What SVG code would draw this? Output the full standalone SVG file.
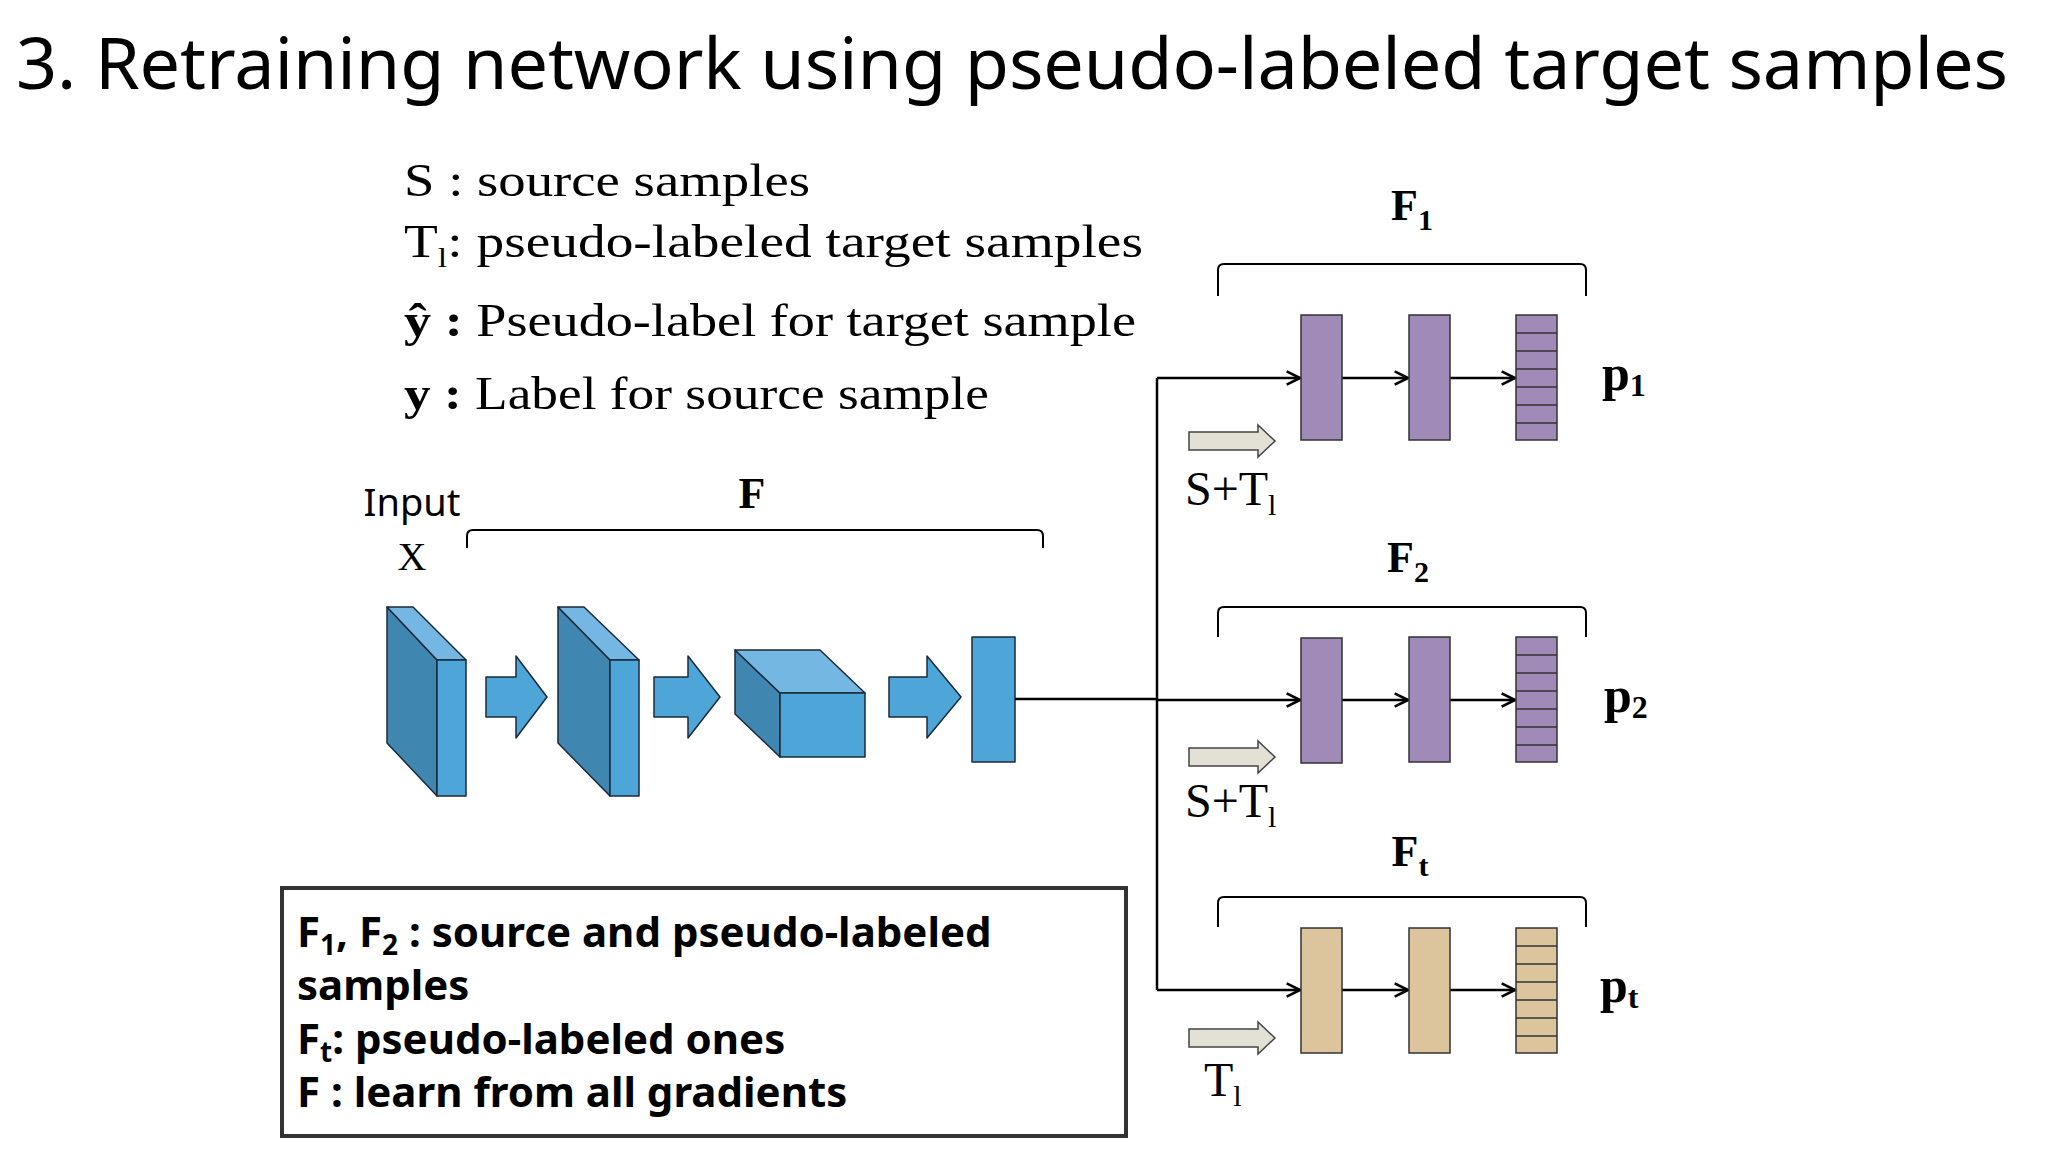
<svg xmlns="http://www.w3.org/2000/svg" width="2048" height="1152" viewBox="0 0 2048 1152">
<defs>
<style>
.sans{font-family:"Noto Sans","Open Sans",sans-serif}
.serif{font-family:"Liberation Serif","DejaVu Serif",serif}
.bl{stroke:#1a2a3a;stroke-width:1.5;stroke-linejoin:round}
.mid{fill:#4ea6d8}.dark{fill:#3f86b0}.lt{fill:#74b7e3}
.pu{fill:#a08ab8;stroke:#333;stroke-width:1.5}
.tan{fill:#dcc49c;stroke:#333;stroke-width:1.5}
.ln{stroke:#000;stroke-width:2.5;fill:none}
.br{stroke:#000;stroke-width:2;fill:none}
.ga{fill:#e3e1d6;stroke:#444;stroke-width:1.5}
</style>
<marker id="ah" viewBox="0 0 12 12" refX="11" refY="6" markerWidth="16" markerHeight="16" markerUnits="userSpaceOnUse" orient="auto"><path d="M1,1 L11,6 L1,11" fill="none" stroke="#000" stroke-width="2"/></marker>
<path id="bar" d="M0,0 h41 v125 h-41 z"/>
</defs>
<rect width="2048" height="1152" fill="#fff"/>
<text x="16" y="89" class="sans" font-size="72" textLength="1992">3. Retraining network using pseudo-labeled target samples</text>

<g id="legend" class="serif" font-size="46">
<text x="404" y="196" textLength="406" lengthAdjust="spacingAndGlyphs">S  : source samples</text>
<text x="404" y="257" textLength="739" lengthAdjust="spacingAndGlyphs">T<tspan font-size="28" dy="10">l</tspan><tspan dy="-10">: pseudo-labeled target samples</tspan></text>
<text x="404" y="336" textLength="732" lengthAdjust="spacingAndGlyphs"><tspan font-weight="bold">ŷ :</tspan> Pseudo-label for target sample</text>
<text x="404" y="409" textLength="585" lengthAdjust="spacingAndGlyphs"><tspan font-weight="bold">y :</tspan> Label for source sample</text>
</g>

<g id="inputLabel"><text x="412" y="516" class="sans" font-size="38" text-anchor="middle">Input</text>
<text x="412" y="570" class="serif" font-size="40" text-anchor="middle">X</text></g>
<g id="Fbrace"><path class="br" d="M467,548 v-12 q0,-6 6,-6 h564 q6,0 6,6 v12"/>
<text x="752" y="508" class="serif" font-size="44" font-weight="bold" text-anchor="middle">F</text></g>

<g id="block1" class="bl">
<polygon class="dark" points="387,607 437,660 437,796 387,743"/>
<polygon class="lt" points="387,607 413,607 466,660 437,660"/>
<rect class="mid" x="437" y="660" width="29" height="136"/>
</g>
<g id="arrow1"><polygon class="mid bl" points="486,677 516,677 516,656 547,697 516,738 516,717 486,717"/></g>
<g id="block2" class="bl">
<polygon class="dark" points="558,607 610,660 610,796 558,743"/>
<polygon class="lt" points="558,607 584,607 639,660 610,660"/>
<rect class="mid" x="610" y="660" width="29" height="136"/>
</g>
<g id="arrow2"><polygon class="mid bl" points="654,677 688,677 688,656 720,697 688,738 688,717 654,717"/></g>
<g id="cube" class="bl">
<polygon class="dark" points="735,650 780,693 780,757 735,714"/>
<polygon class="lt" points="735,650 820,650 865,693 780,693"/>
<rect class="mid" x="780" y="693" width="85" height="64"/>
</g>
<g id="arrow3"><polygon class="mid bl" points="889,677 927,677 927,656 961,697 927,738 927,717 889,717"/></g>
<g id="feat"><rect class="mid bl" x="972" y="637" width="43" height="125"/></g>

<g id="connectors">
<path class="ln" d="M1015,699 H1157"/>
<path class="ln" d="M1157,378 V990"/>
<path class="ln" d="M1157,378 H1300" marker-end="url(#ah)"/>
<path class="ln" d="M1157,700 H1300" marker-end="url(#ah)"/>
<path class="ln" d="M1157,990 H1300" marker-end="url(#ah)"/>
<path class="ln" d="M1342,378 H1408" marker-end="url(#ah)"/>
<path class="ln" d="M1450,378 H1515" marker-end="url(#ah)"/>
<path class="ln" d="M1342,700 H1408" marker-end="url(#ah)"/>
<path class="ln" d="M1450,700 H1515" marker-end="url(#ah)"/>
<path class="ln" d="M1342,990 H1408" marker-end="url(#ah)"/>
<path class="ln" d="M1450,990 H1515" marker-end="url(#ah)"/>
</g>

<g id="F1">
<path class="br" d="M1218,296 v-26 q0,-6 6,-6 h356 q6,0 6,6 v26"/>
<text x="1412" y="220" class="serif" font-size="44" font-weight="bold" text-anchor="middle">F<tspan font-size="30" dy="10">1</tspan></text>
<use href="#bar" x="1301" y="315" class="pu"/><use href="#bar" x="1409" y="315" class="pu"/>
<use href="#bar" x="1516" y="315" class="pu"/>
<path d="M1516,333h41M1516,351h41M1516,369h41M1516,387h41M1516,405h41M1516,423h41" stroke="#333" stroke-width="1.5"/>
<text x="1602" y="390" class="serif" font-size="50" font-weight="bold">p<tspan font-size="32" dy="6">1</tspan></text>
<polygon class="ga" points="1189,432 1258,432 1258,425 1275,441 1258,457 1258,450 1189,450"/>
<text x="1185" y="505" class="serif" font-size="48">S+T<tspan font-size="30" dy="10">l</tspan></text>
</g>

<g id="F2">
<path class="br" d="M1218,637 v-24 q0,-6 6,-6 h356 q6,0 6,6 v24"/>
<text x="1408" y="572" class="serif" font-size="44" font-weight="bold" text-anchor="middle">F<tspan font-size="30" dy="10">2</tspan></text>
<use href="#bar" x="1301" y="638" class="pu"/><use href="#bar" x="1409" y="637" class="pu"/>
<use href="#bar" x="1516" y="637" class="pu"/>
<path d="M1516,655h41M1516,673h41M1516,691h41M1516,709h41M1516,727h41M1516,745h41" stroke="#333" stroke-width="1.5"/>
<text x="1604" y="712" class="serif" font-size="50" font-weight="bold">p<tspan font-size="32" dy="6">2</tspan></text>
<polygon class="ga" points="1189,748 1258,748 1258,741 1275,757 1258,773 1258,766 1189,766"/>
<text x="1185" y="817" class="serif" font-size="48">S+T<tspan font-size="30" dy="10">l</tspan></text>
</g>

<g id="Ft">
<path class="br" d="M1218,927 v-24 q0,-6 6,-6 h356 q6,0 6,6 v24"/>
<text x="1410" y="866" class="serif" font-size="44" font-weight="bold" text-anchor="middle">F<tspan font-size="30" dy="10">t</tspan></text>
<use href="#bar" x="1301" y="928" class="tan"/><use href="#bar" x="1409" y="928" class="tan"/>
<use href="#bar" x="1516" y="928" class="tan"/>
<path d="M1516,946h41M1516,964h41M1516,982h41M1516,1000h41M1516,1018h41M1516,1036h41" stroke="#333" stroke-width="1.5"/>
<text x="1600" y="1002" class="serif" font-size="50" font-weight="bold">p<tspan font-size="32" dy="6">t</tspan></text>
<polygon class="ga" points="1189,1029 1258,1029 1258,1022 1275,1038 1258,1054 1258,1047 1189,1047"/>
<text x="1204" y="1096" class="serif" font-size="48">T<tspan font-size="30" dy="10">l</tspan></text>
</g>

<g id="notebox">
<rect x="282" y="888" width="844" height="248" fill="#fff" stroke="#333" stroke-width="4"/>
<g class="sans" font-size="42" font-weight="bold">
<text x="297" y="947">F<tspan font-size="28" dy="8">1</tspan><tspan dy="-8">, F</tspan><tspan font-size="28" dy="8">2</tspan><tspan dy="-8"> : source and pseudo-labeled</tspan></text>
<text x="297" y="1000">samples</text>
<text x="297" y="1054">F<tspan font-size="28" dy="8">t</tspan><tspan dy="-8">: pseudo-labeled ones</tspan></text>
<text x="297" y="1107">F : learn from all gradients</text>
</g>
</g>
</svg>
